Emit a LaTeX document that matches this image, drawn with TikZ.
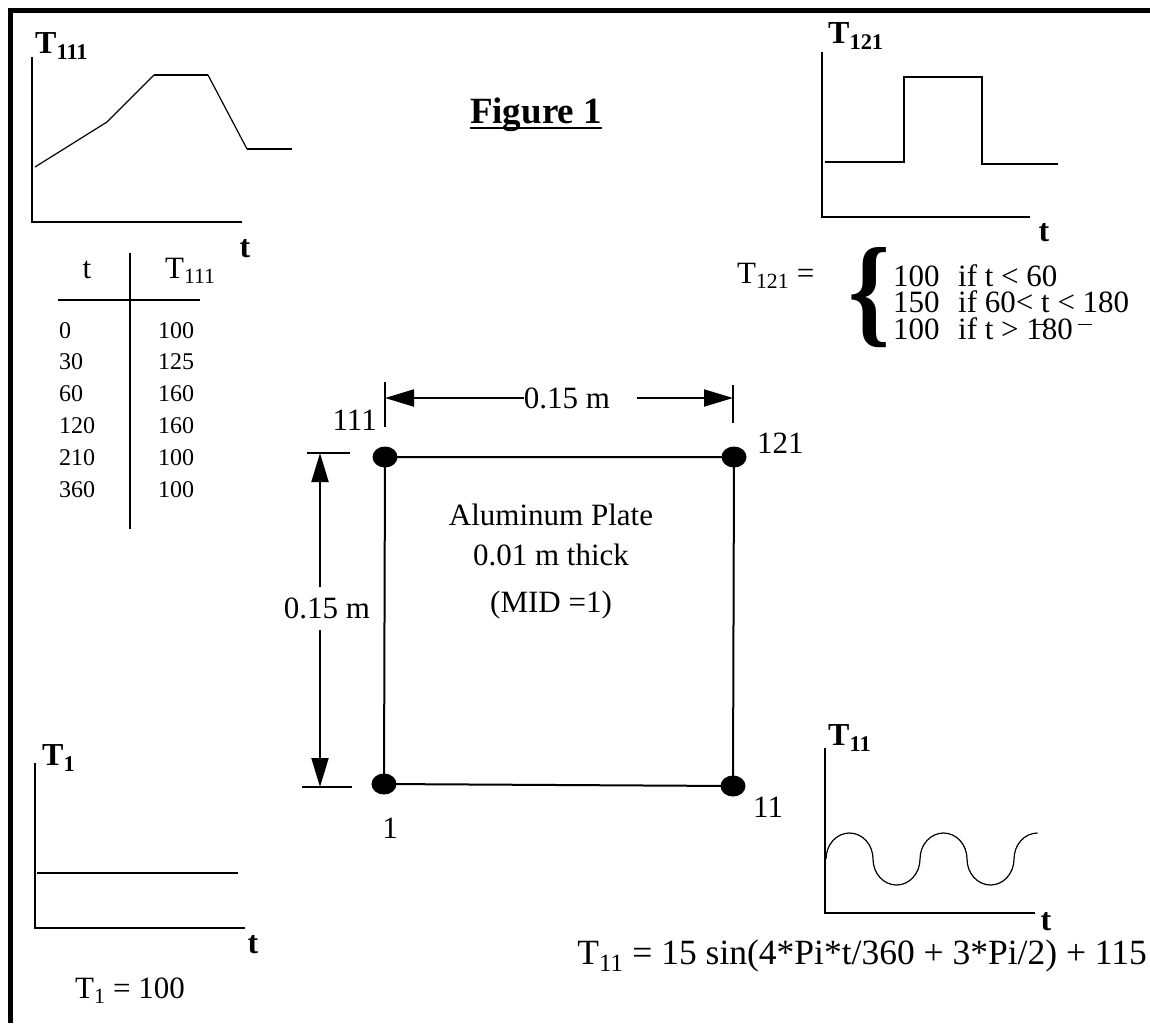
\documentclass[tikz,border=0pt]{standalone}
\usepackage{fontspec}
\setmainfont{Liberation Serif}
\usepackage{graphicx}
\usetikzlibrary{shapes.geometric,arrows.meta}

\newcommand{\txtmain}{\fontsize{31}{35}\selectfont}
\newcommand{\txttab}{\fontsize{24}{28}\selectfont}
\newcommand{\txtlab}{\fontsize{32}{36}\selectfont\bfseries}
\newcommand{\txtfig}{\fontsize{37}{42}\selectfont\bfseries}
\newcommand{\txteq}{\fontsize{35.5}{40}\selectfont}
\newcommand{\lebar}[1][0pt]{\rlap{\hspace{#1}\rule[-13pt]{14pt}{1.5pt}}}

\begin{document}
\begin{tikzpicture}[x=1pt, y=-1pt, >={Triangle[length=29pt,width=17pt]},
  every node/.style={inner sep=0pt, font=\txtmain},
  axis/.style={line width=2.5pt},
  curve/.style={line width=1.2pt},
  flat/.style={line width=2.5pt},
  pin/.style={ellipse, fill, minimum width=25pt, minimum height=21pt},
  tlabel/.style={font=\txtlab}]
\useasboundingbox (0,0) rectangle (1150,1023);
% frame
\draw[line width=4.5pt] (10.5,1023) -- (10.5,10.5) -- (1150,10.5);

% T111 history
\draw[axis] (32,57) -- (32,222) -- (242,222);
\draw[curve] (35,167) -- (107,122) -- (154,75);
\draw[flat] (154,75) -- (208,75);
\draw[curve] (208,75) -- (247,149);
\draw[flat] (247,149) -- (292,149);
\node[tlabel, anchor=base west] (lab111) at (35,53) {T\textsubscript{111}};
\node[tlabel] (t111) at (245,249) {t};

\node[font=\txtfig, anchor=base] (fig) at (536,123) {Figure 1};
\draw[line width=2pt] ([yshift=-5pt]fig.base west) -- ([yshift=-5pt]fig.base east);

% T121 history
\draw[axis] (822,52) -- (822,217) -- (1030,217);
\draw[flat] (825,162) -- (904,162) -- (904,77) -- (982,77) -- (982,164) -- (1058,164);
\node[tlabel, anchor=base west] (lab121) at (828,43) {T\textsubscript{121}};
\node[tlabel] (t121) at (1044,233) {t};

\node[anchor=base west] (eq121) at (737,283) {T\textsubscript{121} =};
\node (brace) at (869,298) {\resizebox{42pt}{84pt}{\bfseries\{}};
\node[anchor=base west] (row1) at (893,286) {\makebox[65pt][l]{100}if t < 60};
\node[anchor=base west] (row2) at (893,312) {\makebox[65pt][l]{150}if 60<\lebar{} t <\lebar[3pt]{} 180};
\node[anchor=base west] (row3) at (893,339) {\makebox[65pt][l]{100}if t > 180};

% table
\draw[line width=2pt] (130,253) -- (130,529);
\draw[line width=2pt] (58,300) -- (200,300);
\node[anchor=base] (th1) at (87,278) {t};
\node[anchor=base west] (th2) at (165,278) {T\textsubscript{111}};
\foreach \tv/\Tv [count=\i] in {0/100,30/125,60/160,120/160,210/100,360/100} {
  \node[font=\txttab, anchor=base west] (tv\i) at (59,306.2+31.8*\i) {\tv};
  \node[font=\txttab, anchor=base west] (Tv\i) at (158,306.2+31.8*\i) {\Tv};
}

% plate
\node[pin] (n111) at (385,457) {};
\node[pin] (n121) at (734,457) {};
\node[pin] (n11) at (733,786) {};
\node[pin] (n1) at (384,784) {};
\draw[line width=2pt] (n111.center) -- (n121.center) -- (n11.center) -- (n1.center) -- cycle;
\node[anchor=east] (l111) at (377,420) {111};
\node[anchor=west] (l121) at (757,443) {121};
\node (l1) at (390,828) {1};
\node[anchor=west] (l11) at (753,807) {11};
\node (alu) at (551,515) {Aluminum Plate};
\node (thick) at (551,555) {0.01 m thick};
\node (mid) at (551,605) {(MID =1)};

% dimensions
\draw[line width=1.5pt] (385,382) -- (385,427);
\draw[line width=1.5pt] (733,385) -- (733,423);
\coordinate (dl) at (385,398);
\coordinate (dr) at (733,398);
\node (dimtop) at (567,398) {0.15 m};
\draw[->, line width=2pt] (dimtop.west) -- (dl);
\draw[->, line width=2pt] ([xshift=27pt]dimtop.east) -- (dr);
\draw[line width=1.5pt] (307,453) -- (350,453);
\draw[line width=1.5pt] (302,787) -- (352,787);
\coordinate (dt) at (320,453);
\coordinate (db) at (320,787);
\coordinate (dlu) at (320,587);
\coordinate (dld) at (320,630);
\node (dimleft) at (327,608) {0.15 m};
\draw[->, line width=2pt] (dlu) -- (dt);
\draw[->, line width=2pt] (dld) -- (db);

% T1 history
\draw[axis] (35,763) -- (35,928) -- (245,928);
\draw[flat] (37,873) -- (238,873);
\node[tlabel, anchor=base west] (lab1) at (42,765) {T\textsubscript{1}};
\node[tlabel] (t1) at (253,945) {t};
\node[anchor=base west] (eq1) at (75,998) {T\textsubscript{1} = 100};

% T11 history
\draw[axis] (825,748) -- (825,913) -- (1035,913);
\draw[curve] (826,859) arc[start angle=180, end angle=0, x radius=23.5pt, y radius=26pt]
  arc[start angle=180, end angle=360, x radius=23.5pt, y radius=26pt]
  arc[start angle=180, end angle=0, x radius=23.5pt, y radius=26pt]
  arc[start angle=180, end angle=360, x radius=23.5pt, y radius=26pt]
  arc[start angle=180, end angle=90, x radius=23.5pt, y radius=26pt];
\node[tlabel, anchor=base west] (lab11) at (828,745) {T\textsubscript{11}};
\node[tlabel] (t11) at (1046,922) {t};
\node[font=\txteq, anchor=base east] (eq11) at (1147,964) {T\textsubscript{11} = 15 sin(4*Pi*t/360 + 3*Pi/2) + 115};
\end{tikzpicture}
\end{document}
